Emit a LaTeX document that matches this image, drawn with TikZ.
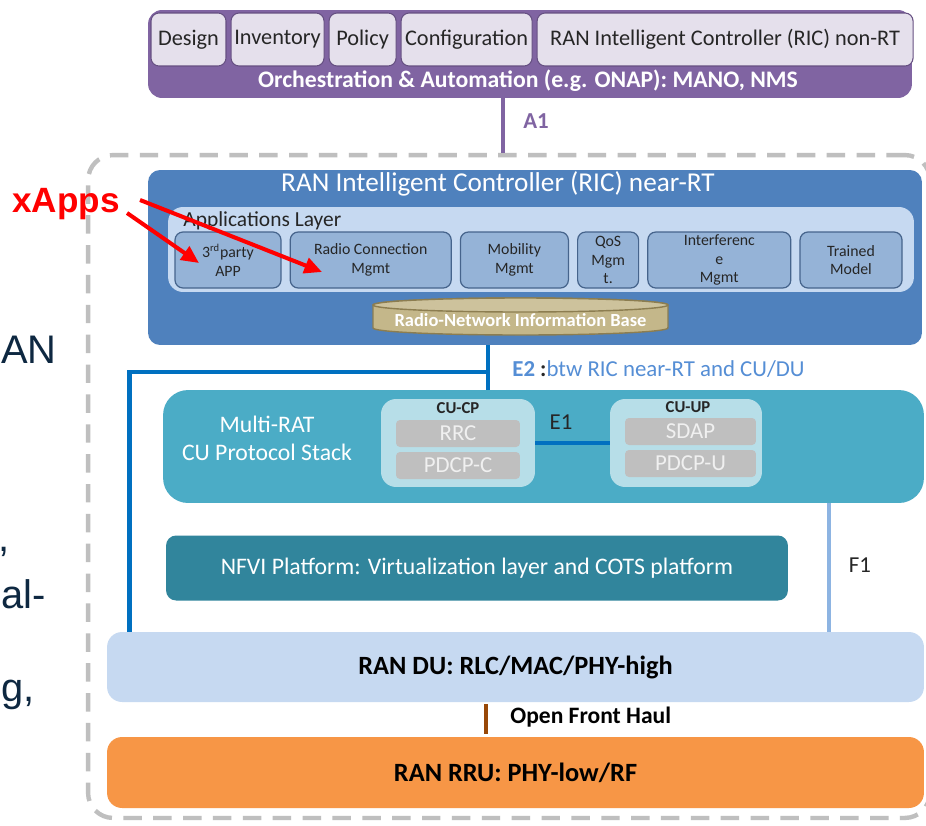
\documentclass[tikz,border=0pt]{standalone}
\usepackage{fontspec}
\setmainfont{Carlito}
\newfontfamily\arialfont{Liberation Sans}
\usetikzlibrary{positioning,arrows.meta}
\definecolor{oranPurple}{RGB}{128,100,162}
\definecolor{oranLav}{RGB}{229,224,236}
\definecolor{ricBlue}{RGB}{79,129,189}
\definecolor{appLight}{RGB}{198,217,241}
\definecolor{appMid}{RGB}{149,179,215}
\definecolor{appEdge}{RGB}{70,100,140}
\definecolor{rnibTan}{RGB}{196,183,138}
\definecolor{rnibEdge}{RGB}{140,125,80}
\definecolor{e2Blue}{RGB}{0,112,192}
\definecolor{e2Text}{RGB}{85,142,213}
\definecolor{cuTeal}{RGB}{75,172,198}
\definecolor{cuLight}{RGB}{183,222,232}
\definecolor{stackGray}{RGB}{191,191,191}
\definecolor{nfviTeal}{RGB}{49,133,156}
\definecolor{f1Blue}{RGB}{141,180,226}
\definecolor{duLight}{RGB}{198,217,241}
\definecolor{fhBrown}{RGB}{152,72,7}
\definecolor{rruOrange}{RGB}{247,150,70}
\definecolor{dashGray}{RGB}{191,191,191}
\definecolor{slideNavy}{RGB}{14,40,65}

\begin{document}
\begin{tikzpicture}[x=0.02cm, y=-0.02cm,
  panel/.style={rounded corners=0.3cm, inner sep=0pt},
  topbox/.style={draw=oranPurple!80!black, line width=0.6pt, fill=oranLav, rounded corners=0.16cm, minimum height=1.06cm, inner sep=1pt, font=\fontsize{12.7}{15}\selectfont, text=black!85},
  appbox/.style={draw=appEdge, line width=0.7pt, fill=appMid, rounded corners=0.16cm, minimum height=1.12cm, inner sep=0.5pt, align=center, font=\fontsize{9}{10.5}\selectfont, text=black!85},
  cubox/.style={fill=cuLight, rounded corners=0.3cm, minimum height=1.76cm, inner sep=0pt},
  stackbox/.style={fill=stackGray, rounded corners=0.08cm, minimum height=0.54cm, inner sep=0pt, text=white!94!black, font=\fontsize{13}{15}\selectfont},
  e2line/.style={e2Blue, line width=2.8pt},
  xarrow/.style={red, line width=2.3pt, -{Triangle[length=10pt, width=9pt]}},
  slidetext/.style={anchor=base west, inner sep=0pt, text=slideNavy, font=\arialfont\fontsize{22.7}{27}\selectfont}
]
\useasboundingbox (0,0) rectangle (926,825);
\fill[white] (0,0) rectangle (926,825);

% left-over slide text
\node[slidetext] (frAN) at (1,363) {AN};
\node[slidetext] (frComma) at (-2,551) {,};
\node[slidetext] (frAl) at (1,608) {al-};
\node[slidetext] (frG) at (1,701) {g,};

% O-RAN frame
\node[draw=dashGray, line width=2.5pt, dash pattern=on 10.5pt off 6.5pt, rounded corners=0.5cm, minimum width=16.84cm, minimum height=13.26cm] (oran) at (509,486.5) {};

% orchestration
\node[panel, fill=oranPurple, rounded corners=0.28cm, minimum width=15.28cm, minimum height=1.76cm] (orch) at (530,54) {};
\node[topbox, minimum width=1.5cm] (design) at (188.5,39.5) {Design};
\node[topbox, minimum width=1.86cm, right=0.08cm of design] (inventory) {Inventory};
\node[topbox, minimum width=1.34cm, right=0.08cm of inventory] (policy) {Policy};
\node[topbox, minimum width=2.62cm, right=0.08cm of policy] (config) {Configuration};
\node[topbox, minimum width=7.52cm, right=0.08cm of config] (ricnrt) {RAN Intelligent Controller (RIC) non-RT};
\node[text=white, font=\bfseries\fontsize{13.5}{16}\selectfont] (orchlbl) at (528,81) {Orchestration \& Automation (e.g. ONAP): MANO, NMS};

\coordinate (a1x) at (503,120);
\draw[oranPurple, line width=2.3pt] (a1x |- orch.south) -- (a1x |- oran.north);
\node[text=oranPurple, font=\bfseries\fontsize{13}{15}\selectfont] (a1lbl) at (536,121) {A1};

% near-RT RIC
\node[panel, fill=ricBlue, rounded corners=0.24cm, minimum width=15.48cm, minimum height=3.5cm] (ric) at (535,257.5) {};
\node[text=white, font=\fontsize{15.5}{18}\selectfont] (rictitle) at (498,184) {RAN Intelligent Controller (RIC) near-RT};
\node[panel, fill=appLight, minimum width=14.92cm, minimum height=1.7cm] (applayer) at (541,249.5) {};
\node[anchor=west, inner sep=0pt, text=black!85, font=\fontsize{12.2}{14}\selectfont] (applbl) at (183,221) {Applications Layer};
\node[appbox, minimum width=2.12cm] (third) at (228,260) {3\textsuperscript{rd}party\\APP};
\node[appbox, minimum width=3.22cm, right=0.16cm of third] (radio) {Radio Connection\\Mgmt};
\node[appbox, minimum width=2.16cm, right=0.16cm of radio] (mobility) {Mobility\\Mgmt};
\node[appbox, minimum width=1.22cm, right=0.16cm of mobility] (qos) {QoS\\Mgm\\t.};
\node[appbox, minimum width=2.86cm, right=0.16cm of qos] (interf) {Interferenc\\e\\Mgmt};
\node[appbox, minimum width=2.04cm, right=0.16cm of interf] (trained) {Trained\\Model};

\draw[fill=rnibTan, draw=rnibEdge, line width=0.8pt] (373,305) -- (373,328)
  arc[start angle=180, end angle=360, x radius=2.95cm, y radius=0.14cm] -- (668,305)
  arc[start angle=0, end angle=180, x radius=2.95cm, y radius=0.14cm] -- cycle;
\draw[fill=rnibTan!85!white, draw=rnibEdge, line width=0.8pt] (520.5,305) ellipse[x radius=2.95cm, y radius=0.14cm];
\node[text=white, font=\bfseries\fontsize{10.5}{12}\selectfont] (rnib) at (520.5,320) {Radio-Network Information Base};

% CU
\node[panel, fill=cuTeal, rounded corners=0.5cm, minimum width=15.22cm, minimum height=2.26cm] (cu) at (543.5,446.5) {};
\node[text=white, align=center, font=\fontsize{13.5}{16}\selectfont] (multirat) at (267,438) {Multi-RAT\\CU Protocol Stack};
\node[cubox, minimum width=3.08cm] (cucp) at (458,443) {};
\node[text=black!85, font=\bfseries\fontsize{9.5}{11}\selectfont] (cucplbl) at (458,408) {CU-CP};
\node[stackbox, minimum width=2.48cm] (rrc) at (458,433.5) {RRC};
\node[stackbox, minimum width=2.48cm] (pdcpc) at (458,465.5) {PDCP-C};
\node[cubox, minimum width=3.04cm] (cuup) at (686,443) {};
\node[text=black!85, font=\bfseries\fontsize{9.5}{11}\selectfont] (cuuplbl) at (688,407) {CU-UP};
\node[stackbox, minimum width=2.62cm] (sdap) at (690.5,431.5) {SDAP};
\node[stackbox, minimum width=2.62cm] (pdcpu) at (690.5,463.5) {PDCP-U};
\draw[e2line] (cucp.east) -- (cuup.west);
\node[text=black!85, font=\fontsize{13}{15}\selectfont] (e1lbl) at (561,422) {E1};

% NFVI
\node[panel, fill=nfviTeal, rounded corners=0.2cm, minimum width=12.44cm, minimum height=1.3cm, text=white, font=\fontsize{13.5}{16}\selectfont] (nfvi) at (477,568) {NFVI Platform: Virtualization layer and COTS platform};

% DU and RRU
\node[panel, fill=duLight, minimum width=16.34cm, minimum height=1.4cm, font=\bfseries\fontsize{15}{18}\selectfont] (du) at (515.5,667) {RAN DU: RLC/MAC/PHY-high};
\node[panel, fill=rruOrange, minimum width=16.34cm, minimum height=1.42cm, font=\bfseries\fontsize{15}{18}\selectfont] (rru) at (515.5,772.5) {RAN RRU: PHY-low/RF};

% E2
\coordinate (e2j) at (488,372);
\draw[e2line] (e2j |- ric.south) -- (e2j |- cu.north);
\draw[e2line] (e2j) -| ([xshift=0.46cm]du.north west);
\node[anchor=west, inner sep=0pt, text=e2Text, font=\fontsize{13}{15}\selectfont] (e2lbl) at (512,369) {\textbf{E2} {\color{black!85}\textbf{:}}btw RIC near-RT and CU/DU};

% F1
\coordinate (f1x) at (829,560);
\draw[f1Blue, line width=2.3pt] (f1x |- cu.south) -- (f1x |- du.north);
\node[text=black!85, font=\fontsize{13}{15}\selectfont] (f1lbl) at (860,565) {F1};

% front haul
\coordinate (fhx) at (486,718);
\draw[fhBrown, line width=2.8pt] ([yshift=-0.04cm]fhx |- du.south) -- ([yshift=0.06cm]fhx |- rru.north);
\node[anchor=west, inner sep=0pt, font=\bfseries\fontsize{13.4}{16}\selectfont] (fhlbl) at (510,717) {Open Front Haul};

% xApps
\node[text=red, inner xsep=0.4cm, font=\arialfont\bfseries\fontsize{20}{24}\selectfont] (xapps) at (66,204) {xApps};
\coordinate (radiotip) at (322,272);
\coordinate (thirdtip) at (199,263);
\draw[xarrow] ([yshift=0.08cm]xapps.east) -- (radiotip);
\draw[xarrow] ([xshift=-0.26cm,yshift=-0.18cm]xapps.east) -- (thirdtip);
\end{tikzpicture}
\end{document}
